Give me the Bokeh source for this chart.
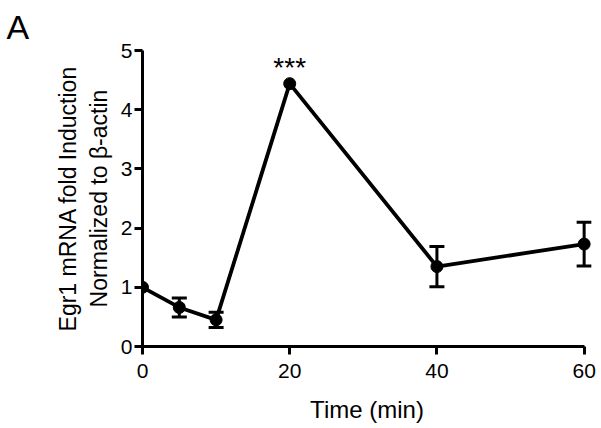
from bokeh.plotting import figure
from bokeh.models import Range1d, FixedTicker, Whisker, ColumnDataSource, TeeHead
from bokeh.core.properties import value
from bokeh.embed import file_html
from bokeh.resources import INLINE

# ---- data ----
time_min = [0, 5, 10, 20, 40, 60]
fold_induction = [1.0, 0.66, 0.45, 4.44, 1.35, 1.73]
sem = [0.0, 0.16, 0.13, 0.0, 0.34, 0.37]
x_ticks = [0, 20, 40, 60]
y_ticks = [0, 1, 2, 3, 4, 5]
sig_time = [20]
sig_label = ["***"]
panel_label = "A"
x_title = "Time (min)"
y_title = "Egr1 mRNA fold Induction\nNormalized to \u03b2-actin"

FONT = "Liberation Sans"

p = figure(width=601, height=428, output_backend="svg", toolbar_location=None,
           x_range=Range1d(0, 61), y_range=Range1d(0, 5),
           frame_width=449, frame_height=296,
           min_border_left=142, min_border_right=10, min_border_top=50, min_border_bottom=82,
           title=panel_label)
p.background_fill_color = "white"
p.border_fill_color = "white"
p.outline_line_color = None
p.xgrid.visible = False
p.ygrid.visible = False

p.title.text_font = FONT
p.title.text_font_size = "34px"
p.title.text_font_style = "normal"
p.title.text_color = "black"
p.title.align = "left"
p.title.offset = -136
p.title.standoff = 9

for ax in (p.xaxis[0], p.yaxis[0]):
    ax.axis_line_width = 3
    ax.axis_line_color = "black"
    ax.major_tick_line_width = 3
    ax.major_tick_line_color = "black"
    ax.major_tick_out = 8
    ax.major_tick_in = 0
    ax.minor_tick_line_color = None
    ax.major_label_text_font = FONT
    ax.major_label_text_font_size = "21px"
    ax.major_label_text_color = "black"
    ax.axis_label_text_font = FONT
    ax.axis_label_text_font_size = "23px"
    ax.axis_label_text_font_style = "normal"
    ax.axis_label_text_color = "black"

p.xaxis[0].ticker = FixedTicker(ticks=x_ticks)
p.yaxis[0].ticker = FixedTicker(ticks=y_ticks)
p.xaxis[0].bounds = (0, 60)
p.yaxis[0].bounds = (0, 5)
p.xaxis[0].axis_label = x_title
p.yaxis[0].axis_label = y_title
p.xaxis[0].axis_label_text_font_size = "24px"
p.xaxis[0].major_label_standoff = 9
p.yaxis[0].major_label_standoff = 2
p.xaxis[0].axis_label_standoff = 15
p.yaxis[0].axis_label_standoff = 6

src = ColumnDataSource(dict(x=time_min, y=fold_induction))
p.line("x", "y", source=src, line_width=3.8, line_color="black")

ex = [t for t, s in zip(time_min, sem) if s > 0]
eu = [v + s for v, s in zip(fold_induction, sem) if s > 0]
el = [v - s for v, s in zip(fold_induction, sem) if s > 0]
esrc = ColumnDataSource(dict(x=ex, upper=eu, lower=el))
w = Whisker(base="x", upper="upper", lower="lower", source=esrc, line_width=3, line_color="black",
            upper_head=TeeHead(size=15, line_width=3, line_color="black"),
            lower_head=TeeHead(size=15, line_width=3, line_color="black"))
p.add_layout(w)

p.scatter("x", "y", source=src, size=12, marker="circle", fill_color="black", line_color="black")

sig_y = [fold_induction[time_min.index(t)] + 0.28 for t in sig_time]
p.text(x=sig_time, y=sig_y, text=sig_label, text_align="center", text_baseline="middle",
       text_font=value(FONT), text_font_size="28px", text_color="black")

open("out.html", "w").write(file_html(p, INLINE))
